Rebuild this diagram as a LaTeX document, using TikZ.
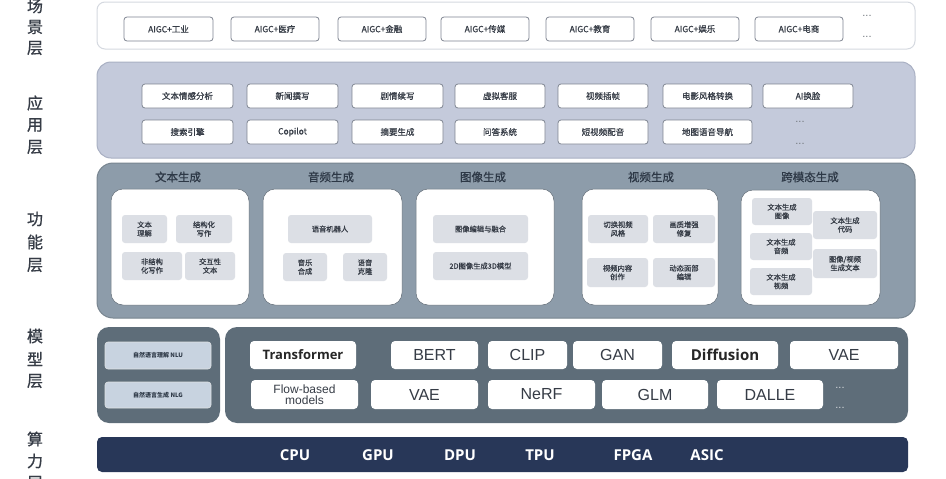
\documentclass[tikz,border=0pt]{standalone}
\usepackage{fontspec}
\setmainfont{Noto Sans CJK SC}
\newfontfamily\cjkm[FakeBold=0.8]{Noto Sans CJK SC}
\newfontfamily\lat{Liberation Sans}
\newfontfamily\opn{Open Sans}
\definecolor{scbd}{HTML}{D5D9E0}
\definecolor{appbg}{HTML}{C4CADB}
\definecolor{appbd}{HTML}{A9B0C3}
\definecolor{funbg}{HTML}{8D9CAA}
\definecolor{modbg}{HTML}{5E6D79}
\definecolor{cmpbg}{HTML}{283758}
\definecolor{itemg}{HTML}{DCDFE5}
\definecolor{nlubg}{HTML}{C8D3E0}
\definecolor{txt}{HTML}{363C46}
\definecolor{ttl}{HTML}{2D3846}
\definecolor{bxbd}{HTML}{7F8591}
\newcommand\bx[7]{\node[#6, minimum width={(#4-#2)*1pt}, minimum height={(#5-#3)*1pt}] (#1) at ({(#2+#4)/2},{(#3+#5)/2}) {#7};}
\tikzset{
  every node/.style={inner sep=0pt, outer sep=0pt, align=center},
  sidelbl/.style={font=\cjkm\fontsize{16}{16}\selectfont, text=txt},
  scbox/.style={draw=bxbd, line width=0.8pt, fill=white, rounded corners=3pt, font=\cjkm\fontsize{8.5}{8.5}\selectfont, text=txt},
  apbox/.style={draw=bxbd, line width=0.8pt, fill=white, rounded corners=3pt, font=\cjkm\fontsize{8.5}{8.5}\selectfont, text=txt},
  fwhite/.style={fill=white, rounded corners=12pt, draw=funbg!70!black, line width=0.5pt},
  ftitle/.style={font=\cjkm\fontsize{11.5}{11.5}\selectfont, text=ttl},
  fitem/.style={fill=itemg, rounded corners=3pt, font=\cjkm\fontsize{7.3}{8.6}\selectfont, text=txt},
  nlbox/.style={fill=nlubg, draw=white!80!modbg, line width=0.6pt, rounded corners=3pt, font=\bfseries\fontsize{6}{6}\selectfont, text=ttl},
  mbox/.style={fill=white, rounded corners=4pt, font=\lat\fontsize{16}{16}\selectfont, text=txt},
  mboxb/.style={fill=white, rounded corners=4pt, font=\opn\bfseries\fontsize{13}{13}\selectfont, text=black!85},
  ctext/.style={font=\opn\bfseries\fontsize{15}{15}\selectfont, text=white},
  dots/.style={font=\lat\fontsize{11}{11}\selectfont, text=txt!70}
}
\begin{document}
\begin{tikzpicture}[x=1pt,y=-1pt]
\clip (0,0) rectangle (946,479);
\fill[white] (0,0) rectangle (946,479);
% side labels
\node[sidelbl] (s1) at (35,6) {场};
\node[sidelbl] (s2) at (35,27) {景};
\node[sidelbl] (s3) at (35,48) {层};
\node[sidelbl] (a1) at (35,103) {应};
\node[sidelbl] (a2) at (35,125) {用};
\node[sidelbl] (a3) at (35,147) {层};
\node[sidelbl] (f1) at (35,219) {功};
\node[sidelbl] (f2) at (35,242) {能};
\node[sidelbl] (f3) at (35,265) {层};
\node[sidelbl] (m1) at (35,336) {模};
\node[sidelbl] (m2) at (35,359) {型};
\node[sidelbl] (m3) at (35,381) {层};
\node[sidelbl] (c1) at (35,439) {算};
\node[sidelbl] (c2) at (35,461) {力};
\node[sidelbl] (c3) at (35,483) {层};
% scene layer
\bx{scene}{97}{2}{915}{49}{draw=scbd, fill=white, rounded corners=8pt, line width=1pt}{}
\bx{sc1}{124}{17}{213}{41}{scbox}{AIGC+工业}
\bx{sc2}{231}{17}{319}{41}{scbox}{AIGC+医疗}
\bx{sc3}{338}{17}{426}{41}{scbox}{AIGC+金融}
\bx{sc4}{441}{17}{529}{41}{scbox}{AIGC+传媒}
\bx{sc5}{546}{17}{634}{41}{scbox}{AIGC+教育}
\bx{sc6}{651}{17}{739}{41}{scbox}{AIGC+娱乐}
\bx{sc7}{755}{17}{843}{41}{scbox}{AIGC+电商}
\node[dots] (scd1) at (867,16) {...};
\node[dots] (scd2) at (867,37) {...};
% application layer
\bx{app}{97}{62}{915}{158}{fill=appbg, draw=appbd, line width=1pt, rounded corners=14pt}{}
\bx{ap1}{142}{84}{233}{108}{apbox}{文本情感分析}
\bx{ap2}{247}{84}{338}{108}{apbox}{新闻撰写}
\bx{ap3}{352}{84}{443}{108}{apbox}{剧情续写}
\bx{ap4}{455}{84}{545}{108}{apbox}{虚拟客服}
\bx{ap5}{558}{84}{648}{108}{apbox}{视频插帧}
\bx{ap6}{663}{84}{752}{108}{apbox}{电影风格转换}
\bx{ap7}{763}{84}{853}{108}{apbox}{AI换脸}
\bx{ap8}{142}{120}{233}{144}{apbox}{搜索引擎}
\bx{ap9}{247}{120}{338}{144}{apbox}{Copilot}
\bx{ap10}{352}{120}{443}{144}{apbox}{摘要生成}
\bx{ap11}{455}{120}{545}{144}{apbox}{问答系统}
\bx{ap12}{558}{120}{648}{144}{apbox}{短视频配音}
\bx{ap13}{663}{120}{752}{144}{apbox}{地图语音导航}
\node[dots] (apd1) at (800,122) {...};
\node[dots] (apd2) at (800,144) {...};
% function layer
\bx{fun}{97}{163}{915}{318}{fill=funbg, draw=funbg!85!black, line width=1pt, rounded corners=16pt}{}
\node[ftitle] (t1) at (178,177) {文本生成};
\node[ftitle] (t2) at (331,177) {音频生成};
\node[ftitle] (t3) at (483,177) {图像生成};
\node[ftitle] (t4) at (651,177) {视频生成};
\node[ftitle] (t5) at (810,177) {跨模态生成};
\bx{fb1}{111}{189}{249}{305}{fwhite}{}
\bx{fb2}{263}{189}{402}{305}{fwhite}{}
\bx{fb3}{416}{189}{554}{305}{fwhite}{}
\bx{fb4}{582}{189}{718}{305}{fwhite}{}
\bx{fb5}{741}{190}{880}{305}{fwhite}{}
\bx{i11}{122}{215}{167}{243}{fitem}{文本\\理解}
\bx{i12}{176}{215}{232}{243}{fitem}{结构化\\写作}
\bx{i13}{122}{252}{182}{280}{fitem}{非结构\\化写作}
\bx{i14}{185}{252}{235}{280}{fitem}{交互性\\文本}
\bx{i21}{288}{215}{372}{243}{fitem}{语音机器人}
\bx{i22}{283}{253}{327}{281}{fitem}{音乐\\合成}
\bx{i23}{343}{253}{387}{281}{fitem}{语音\\克隆}
\bx{i31}{433}{215}{528}{243}{fitem}{图像编辑与融合}
\bx{i32}{433}{252}{528}{280}{fitem}{2D图像生成3D模型}
\bx{i41}{588}{215}{648}{243}{fitem}{切换视频\\风格}
\bx{i42}{653}{215}{715}{243}{fitem}{画质增强\\修复}
\bx{i43}{587}{258}{648}{287}{fitem}{视频内容\\创作}
\bx{i44}{653}{258}{715}{287}{fitem}{动态面部\\编辑}
\bx{i51}{752}{198}{812}{225}{fitem}{文本生成\\图像}
\bx{i52}{750}{233}{812}{260}{fitem}{文本生成\\音频}
\bx{i53}{750}{268}{812}{295}{fitem}{文本生成\\视频}
\bx{i54}{813}{211}{877}{239}{fitem}{文本生成\\代码}
\bx{i55}{813}{249}{877}{278}{fitem}{图像/视频\\生成文本}
% model layer
\bx{modl}{97}{327}{220}{423}{fill=modbg, rounded corners=12pt}{}
\bx{modr}{225}{327}{908}{423}{fill=modbg, rounded corners=12pt}{}
\bx{nlu}{105}{342}{211}{369}{nlbox}{自然语言理解 NLU}
\bx{nlg}{105}{382}{211}{408}{nlbox}{自然语言生成 NLG}
\bx{mo1}{250}{341}{356}{369}{mboxb}{Transformer}
\bx{mo2}{391}{341}{478}{369}{mbox}{BERT}
\bx{mo3}{488}{341}{567}{369}{mbox}{CLIP}
\bx{mo4}{573}{341}{662}{369}{mbox}{GAN}
\bx{mo5}{672}{341}{778}{369}{mboxb, font=\opn\bfseries\fontsize{15}{15}\selectfont}{Diffusion}
\bx{mo6}{790}{341}{898}{369}{mbox}{VAE}
\bx{mo7}{251}{380}{358}{409}{mbox, font=\lat\fontsize{12}{11}\selectfont}{Flow-based\\models}
\bx{mo8}{371}{380}{478}{409}{mbox}{VAE}
\bx{mo9}{488}{380}{595}{409}{mbox}{NeRF}
\bx{mo10}{602}{380}{708}{409}{mbox}{GLM}
\bx{mo11}{717}{380}{823}{409}{mbox}{DALLE}
\node[dots, text=white!75!modbg] (mod1) at (840,388) {...};
\node[dots, text=white!75!modbg] (mod2) at (840,408) {...};
% compute layer
\bx{cmp}{97}{437}{908}{472}{fill=cmpbg, rounded corners=5pt}{}
\node[ctext] (cpu) at (295,455) {CPU};
\node[ctext] (gpu) at (378,455) {GPU};
\node[ctext] (dpu) at (460,455) {DPU};
\node[ctext] (tpu) at (540,455) {TPU};
\node[ctext] (fpga) at (633,455) {FPGA};
\node[ctext] (asic) at (707,455) {ASIC};
\end{tikzpicture}
\end{document}
